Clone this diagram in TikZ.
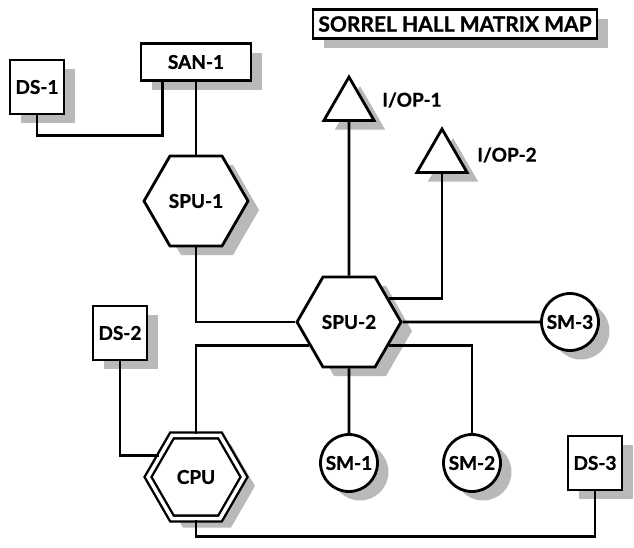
\documentclass[tikz,border=0pt]{standalone}
\usepackage{fontspec}
\setmainfont{Lato}[BoldFeatures={FakeBold=1}]
\usetikzlibrary{shapes.geometric,shadows}

\begin{document}
\begin{tikzpicture}[x=1pt,y=-1pt,line width=2.8pt,
  every node/.style={font=\bfseries\fontsize{19}{19}\selectfont,inner sep=0pt},
  sh/.style={drop shadow={shadow xshift=11pt,shadow yshift=-9pt,fill=gray!55,opacity=1}},
  box/.style={draw,fill=white,sh,minimum width=54pt,minimum height=54pt},
  hex/.style={draw,fill=white,sh,regular polygon,regular polygon sides=6,minimum size=104pt},
  tri/.style={draw,fill=white,sh,regular polygon,regular polygon sides=3,minimum size=58pt},
  sm/.style={draw,fill=white,sh,circle,minimum size=57pt}]
  \useasboundingbox (0,0) rectangle (634,547);
  \node[draw,fill=white,sh,minimum width=284pt,minimum height=29pt,font=\bfseries\fontsize{21}{21}\selectfont] (title) at (455,24) {SORREL HALL MATRIX MAP};
  \node[box] (ds1) at (37,87) {DS-1};
  \node[box,minimum width=110pt,minimum height=37pt] (san1) at (196,62) {SAN-1};
  \node[hex] (spu1) at (196,201) {SPU-1};
  \node[hex] (spu2) at (349,322) {SPU-2};
  \node[tri] (iop1) at (349,106) {};
  \node[tri] (iop2) at (442,158) {};
  \node (iop1l) at (412,100) {I/OP-1};
  \node (iop2l) at (507,155) {I/OP-2};
  \node[sm] (sm3) at (570,322) {SM-3};
  \node[sm] (sm1) at (349,463) {SM-1};
  \node[sm] (sm2) at (472,463) {SM-2};
  \node[box] (ds2) at (120,333) {DS-2};
  \node[box] (ds3) at (595,463) {DS-3};
  \node[hex,double,double distance=3.5pt,line width=2.4pt,minimum size=96pt] (cpu) at (196,477) {CPU};
  \draw (ds1.south) -- ++(0,20) -| ([xshift=23pt]san1.south west);
  \draw (san1) -- (spu1);
  \draw (spu1.south) |- (spu2.west);
  \draw (spu2.north) -- (iop1.south);
  \draw (iop2.south) |- (spu2.30);
  \draw (spu2) -- (sm3);
  \draw (spu2.-30) -| (sm2.north);
  \draw (spu2) -- (sm1);
  \draw (spu2.210) -| (cpu.north);
  \draw (ds2.south) |- (cpu.150);
  \draw (cpu.south) -- ++(0,17) -| (ds3.south);
\end{tikzpicture}
\end{document}
